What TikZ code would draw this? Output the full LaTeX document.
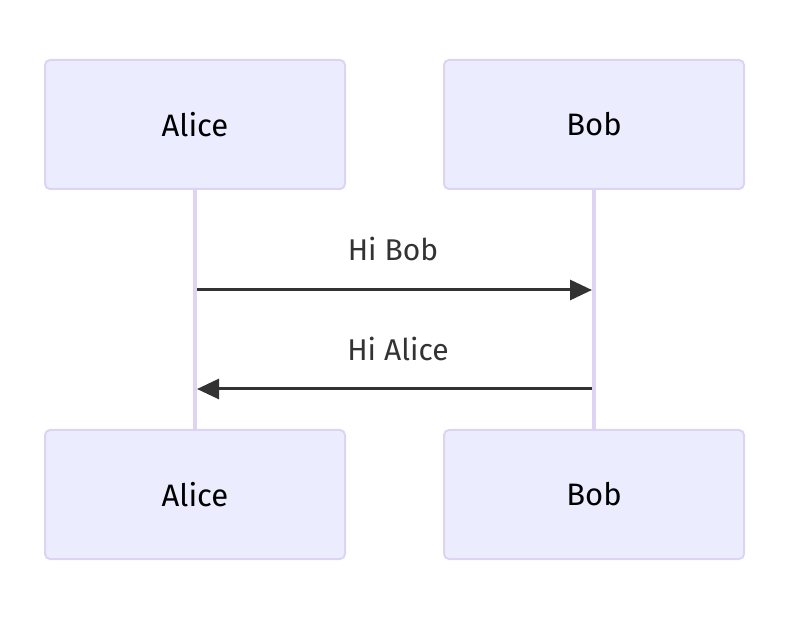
\documentclass[tikz,border=0pt]{standalone}
\usepackage{fontspec}
\setmainfont{Fira Sans}
\usetikzlibrary{arrows.meta}
\definecolor{actfill}{HTML}{ECECFF}
\definecolor{actline}{HTML}{DDD4F4}
\definecolor{msg}{HTML}{333333}
\tikzset{
  actor/.style={draw=actline, fill=actfill, line width=2pt, rounded corners=5pt,
    minimum width=300pt, minimum height=129pt, inner sep=0pt, font=\fontsize{31}{36}\selectfont, text=black},
  lifeline/.style={draw=actline, line width=3.5pt},
  message/.style={draw=msg, line width=3pt, -{Triangle[length=22pt,width=20pt]}},
  msglabel/.style={font=\fontsize{30}{34}\selectfont, text=msg, inner sep=0pt}
}
\begin{document}
\begin{tikzpicture}[x=1pt,y=-1pt]
\useasboundingbox (0,0) rectangle (790,617);
\coordinate (a1) at (195,189);
\coordinate (a2) at (195,430);
\coordinate (b1) at (594,189);
\coordinate (b2) at (594,430);
\draw[lifeline] (a1) -- (a2);
\draw[lifeline] (b1) -- (b2);
\node[actor] (aliceTop) at (195,124.5) {Alice};
\node[actor] (bobTop) at (594,124.5) {Bob};
\node[actor] (aliceBot) at (195,494.5) {Alice};
\node[actor] (bobBot) at (594,494.5) {Bob};
\coordinate (m1s) at (197,290);
\coordinate (m1e) at (592,290);
\coordinate (m2s) at (592,389);
\coordinate (m2e) at (197,389);
\draw[message] (m1s) -- (m1e);
\draw[message] (m2s) -- (m2e);
\node[msglabel] (l1) at (393,249) {Hi Bob};
\node[msglabel] (l2) at (398,349) {Hi Alice};
\end{tikzpicture}
\end{document}
